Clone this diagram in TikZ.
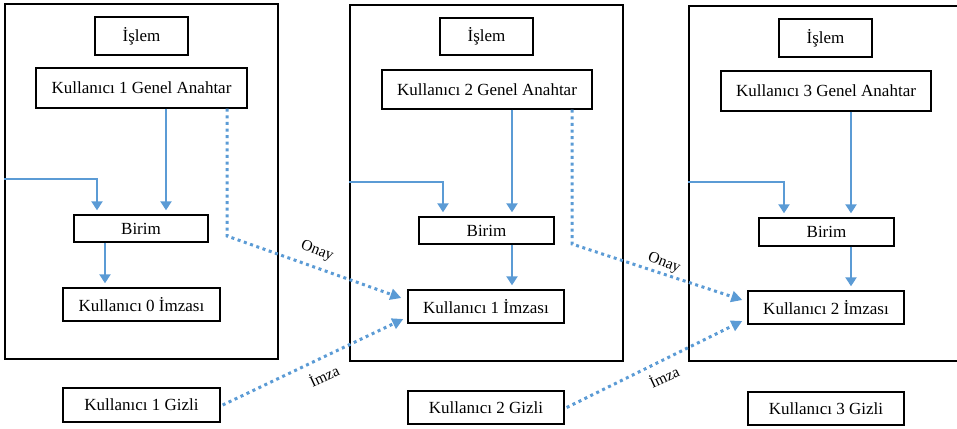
\documentclass[tikz,border=0pt]{standalone}
\usepackage{fontspec}
\setmainfont{Liberation Serif}
\usetikzlibrary{arrows.meta,calc}
\definecolor{lblue}{RGB}{91,155,213}
\begin{document}
\begin{tikzpicture}[x=1pt,y=-1pt,
  bx/.style={draw=black,line width=1.4pt,inner sep=0pt,font=\fontsize{17}{20}\selectfont,fill=white},
  outer/.style={draw=black,line width=1.6pt,inner sep=0pt},
  arr/.style={draw=lblue,line width=2.8pt,-{Triangle[width=11pt,length=9pt]},shorten >=4pt},
  dotarr/.style={draw=lblue,line width=3pt,dash pattern=on 3pt off 3.6pt,-{Triangle[width=11pt,length=11pt]}},
  lbl/.style={font=\fontsize{15.5}{18}\selectfont,inner sep=0pt}]
\useasboundingbox (0,0) rectangle (957,428);
% outer frames
\node[outer,minimum width=273pt,minimum height=355pt] (outer1) at (141.5,181.5) {};
\node[outer,minimum width=273pt,minimum height=356pt] (outer2) at (486.5,183) {};
\node[outer,minimum width=276pt,minimum height=355pt] (outer3) at (827,183.5) {};
% panel 1
\node[bx,minimum width=93pt,minimum height=38pt] (islem1) at (141.5,36) {İşlem};
\node[bx,minimum width=211pt,minimum height=40pt] (genel1) at (141.5,88) {Kullanıcı 1 Genel Anahtar};
\node[bx,minimum width=134pt,minimum height=27pt] (birim1) at (141,228.5) {Birim};
\node[bx,minimum width=157pt,minimum height=33pt] (imza0) at (141.5,304.5) {Kullanıcı 0 İmzası};
\node[bx,minimum width=157pt,minimum height=34pt] (gizli1) at (141.5,405) {Kullanıcı 1 Gizli};
% panel 2
\node[bx,minimum width=93pt,minimum height=37pt] (islem2) at (486.5,36.5) {İşlem};
\node[bx,minimum width=210pt,minimum height=39pt] (genel2) at (487,89.5) {Kullanıcı 2 Genel Anahtar};
\node[bx,minimum width=135pt,minimum height=27pt] (birim2) at (486.5,230.5) {Birim};
\node[bx,minimum width=156pt,minimum height=33pt] (imza1) at (486,306.5) {Kullanıcı 1 İmzası};
\node[bx,minimum width=156pt,minimum height=33pt] (gizli2) at (486,407.5) {Kullanıcı 2 Gizli};
% panel 3
\node[bx,minimum width=93pt,minimum height=38pt] (islem3) at (825.5,38) {İşlem};
\node[bx,minimum width=210pt,minimum height=40pt] (genel3) at (826,91) {Kullanıcı 3 Genel Anahtar};
\node[bx,minimum width=135pt,minimum height=28pt] (birim3) at (826.5,232) {Birim};
\node[bx,minimum width=156pt,minimum height=33pt] (imza2) at (826,307.5) {Kullanıcı 2 İmzası};
\node[bx,minimum width=156pt,minimum height=33pt] (gizli3) at (826,408.5) {Kullanıcı 3 Gizli};
% solid arrows panel 1
\draw[arr] ([xshift=24.5pt]genel1.south) -- ([xshift=24.5pt]genel1.south |- birim1.north);
\draw[arr] (outer1.west |- 0,179) -| ([xshift=-44pt]birim1.north);
\draw[arr] ([xshift=-36pt]birim1.south) -- ([xshift=-36pt]birim1.south |- imza0.north);
% solid arrows panel 2
\draw[arr] ([xshift=25pt]genel2.south) -- ([xshift=25pt]genel2.south |- birim2.north);
\draw[arr] (outer2.west |- 0,182) -| ([xshift=-43.5pt]birim2.north);
\draw[arr] ([xshift=25.5pt]birim2.south) -- ([xshift=25.5pt]birim2.south |- imza1.north);
% solid arrows panel 3
\draw[arr] ([xshift=25pt]genel3.south) -- ([xshift=25pt]genel3.south |- birim3.north);
\draw[arr] (outer3.west |- 0,182) -| ([xshift=-42.5pt]birim3.north);
\draw[arr] ([xshift=24.5pt]birim3.south) -- ([xshift=24.5pt]birim3.south |- imza2.north);
% dotted arrows
\coordinate (c1) at ([xshift=85.5pt]genel1.south |- 0,236);
\draw[dotarr] ([xshift=85.5pt]genel1.south) -- (c1) -- ([xshift=-6pt,yshift=8.5pt]imza1.west);
\coordinate (c2) at ([xshift=85pt]genel2.south |- 0,244);
\draw[dotarr] ([xshift=85pt]genel2.south) -- (c2) -- ([xshift=-5pt,yshift=7.5pt]imza2.west);
\draw[dotarr] ([xshift=2pt]gizli1.east) -- ([xshift=-4pt,yshift=-12.5pt]imza1.west);
\draw[dotarr] ([xshift=2pt]gizli2.east) -- ([xshift=-5pt,yshift=-13.5pt]imza2.west);
% labels
\node[lbl,rotate=-21] (onay1) at (317,251) {Onay};
\node[lbl,rotate=-21] (onay2) at (664,263) {Onay};
\node[lbl,rotate=25] (imzal1) at (324,375) {İmza};
\node[lbl,rotate=25] (imzal2) at (664,376) {İmza};
\end{tikzpicture}
\end{document}
